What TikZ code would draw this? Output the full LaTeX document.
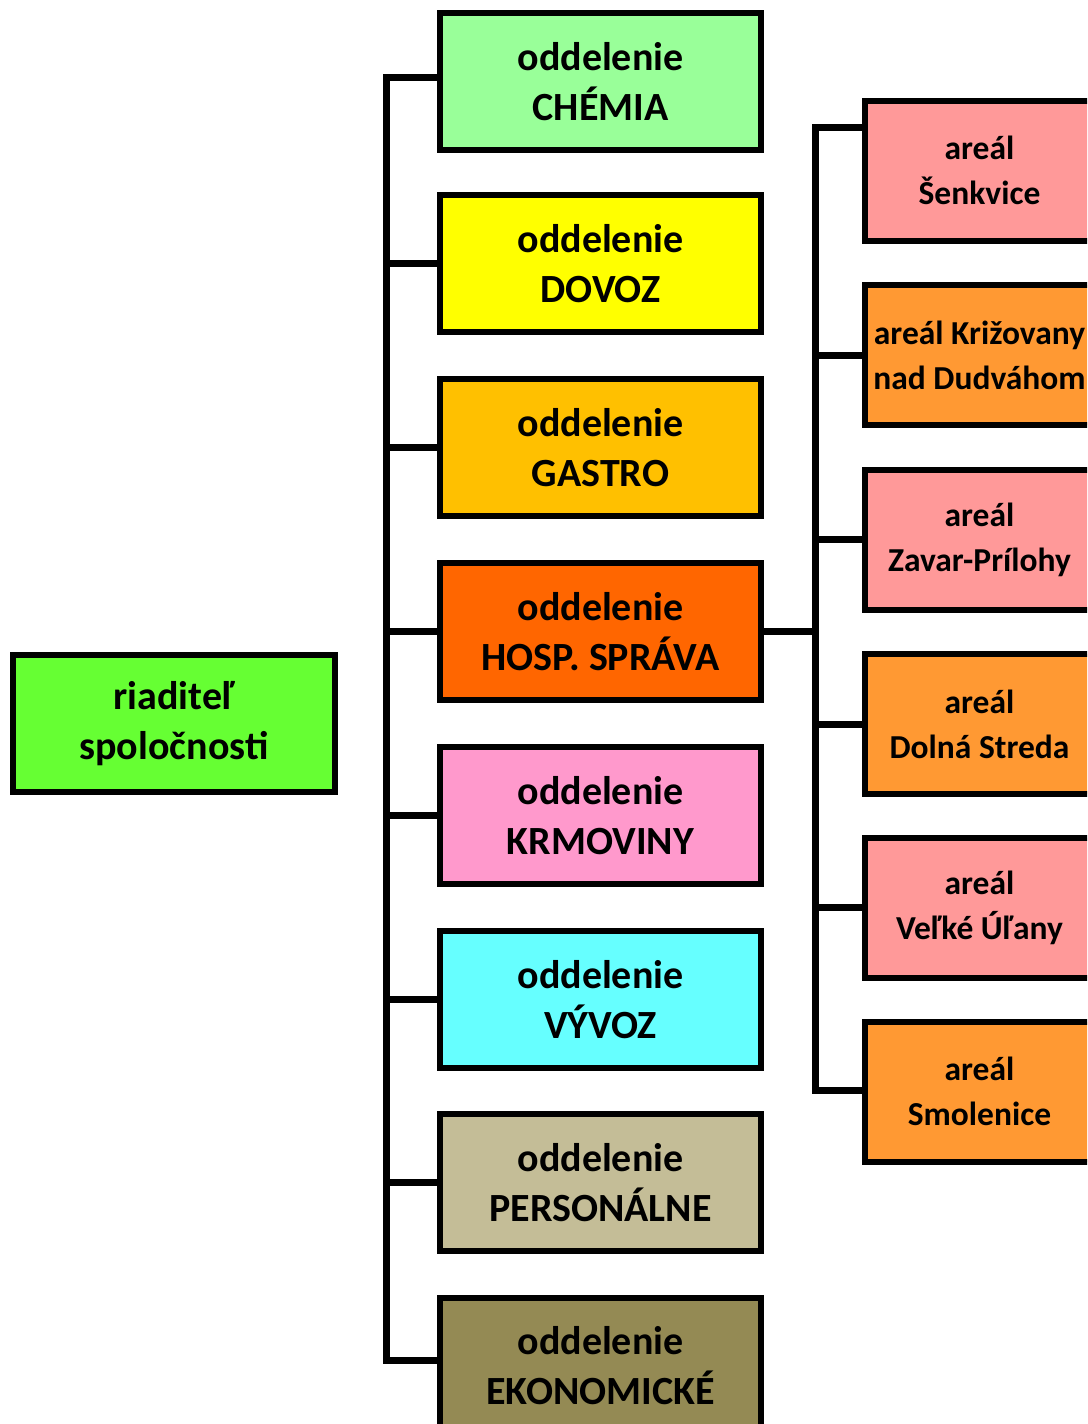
\documentclass[tikz,border=0pt]{standalone}
\usepackage{fontspec}
\setmainfont{Carlito}
\definecolor{cChem}{HTML}{99FF99}
\definecolor{cDovoz}{HTML}{FFFF00}
\definecolor{cGastro}{HTML}{FFC000}
\definecolor{cHosp}{HTML}{FF6600}
\definecolor{cKrmo}{HTML}{FF99CC}
\definecolor{cVyvoz}{HTML}{66FFFF}
\definecolor{cPers}{HTML}{C4BD97}
\definecolor{cEkon}{HTML}{948A54}
\definecolor{cRiad}{HTML}{66FF33}
\definecolor{cPink}{HTML}{FF9999}
\definecolor{cOrange}{HTML}{FF9933}
\tikzset{
  dept/.style={draw, line width=3pt, minimum width=160.5pt, minimum height=68.5pt,
    align=center, inner sep=0pt, font=\fontsize{20pt}{25pt}\selectfont\bfseries},
  site/.style={draw, line width=3pt, minimum width=114.5pt, minimum height=70pt,
    align=center, inner sep=0pt, font=\fontsize{16.75pt}{22.5pt}\selectfont\bfseries},
  conn/.style={line width=3.5pt, line join=miter}
}
\begin{document}
\begin{tikzpicture}[x=0.5pt,y=-0.5pt]
\clip (0,0) rectangle (1087,1424);
\fill[white] (0,0) rectangle (1087,1424);
% director
\node[dept, fill=cRiad, minimum width=161pt] (riad) at (174,723.5) {riaditeľ\\spoločnosti};
% departments
\node[dept, fill=cChem]   (chem)  at (600.5,81.5)  {oddelenie\\CHÉMIA};
\node[dept, fill=cDovoz]  (dovoz) at (600.5,263.5) {oddelenie\\DOVOZ};
\node[dept, fill=cGastro] (gastro) at (600.5,447.5) {oddelenie\\GASTRO};
\node[dept, fill=cHosp]   (hosp)  at (600.5,631.5) {oddelenie\\HOSP. SPRÁVA};
\node[dept, fill=cKrmo]   (krmo)  at (600.5,815.5) {oddelenie\\KRMOVINY};
\node[dept, fill=cVyvoz]  (vyvoz) at (600.5,999.5) {oddelenie\\VÝVOZ};
\node[dept, fill=cPers]   (pers)  at (600.5,1182.5) {oddelenie\\PERSONÁLNE};
\node[dept, fill=cEkon]   (ekon)  at (600.5,1366) {oddelenie\\EKONOMICKÉ};
% sites
\node[site, fill=cPink]   (senk)  at (979.5,170.5) {areál\\Šenkvice};
\node[site, fill=cOrange] (kriz)  at (979.5,355)   {areál Križovany\\nad Dudváhom};
\node[site, fill=cPink]   (zavar) at (979.5,539.5) {areál\\Zavar-Prílohy};
\node[site, fill=cOrange] (dolna) at (979.5,724)   {areál\\Dolná Streda};
\node[site, fill=cPink]   (velke) at (979.5,907.5) {areál\\Veľké Úľany};
\node[site, fill=cOrange] (smol)  at (979.5,1091.5) {areál\\Smolenice};
% left tree
\coordinate (lt) at (386,77);
\coordinate (lb) at (386,1360);
\draw[conn] (chem.west |- lt) -- (lt) -- (lb) -- (ekon.west |- lb);
\foreach \n in {dovoz,gastro,hosp,krmo,vyvoz,pers}
  \draw[conn] (\n.west) -- (lt |- \n.west);
% right tree
\coordinate (rt) at (815,127);
\coordinate (rb) at (815,1090);
\draw[conn] (senk.west |- rt) -- (rt) -- (rb) -- (smol.west |- rb);
\foreach \n in {kriz,zavar,dolna,velke}
  \draw[conn] (\n.west) -- (rt |- \n.west);
\draw[conn] (hosp.east) -- (rt |- hosp.east);
\end{tikzpicture}
\end{document}
